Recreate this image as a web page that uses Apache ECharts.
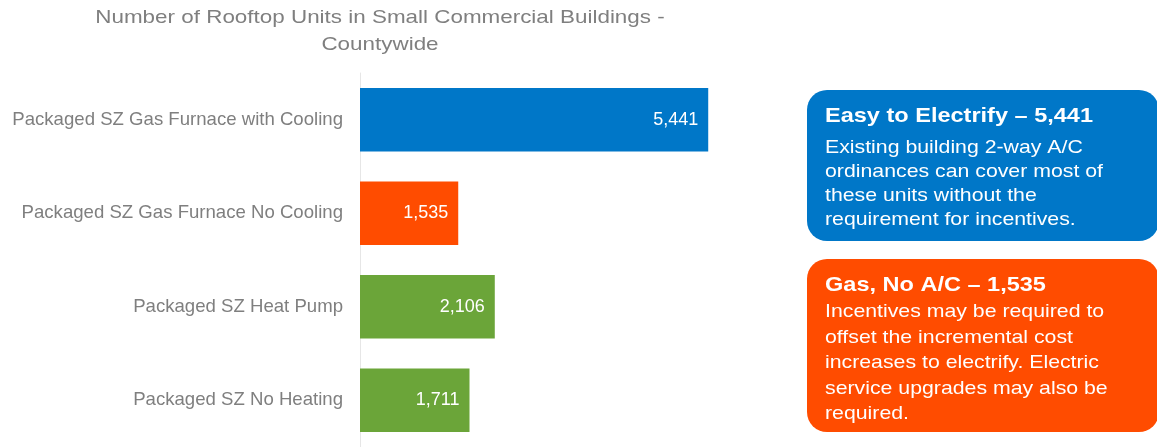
<!DOCTYPE html>
<html>
<head>
<meta charset="utf-8">
<script src="https://cdn.jsdelivr.net/npm/echarts@6/dist/echarts.min.js"></script>
<style>
  html, body { margin: 0; padding: 0; background: #ffffff; }
  #chart { width: 1157px; height: 447px; }
</style>
</head>
<body>
<div id="chart"></div>
<script>
// Rooftop unit counts by system type
const categories = [
  'Packaged SZ Gas Furnace with Cooling',
  'Packaged SZ Gas Furnace No Cooling',
  'Packaged SZ Heat Pump',
  'Packaged SZ No Heating'
];
const units = [5441, 1535, 2106, 1711];
const barColors = ['#0077c8', '#ff4c00', '#6ba539', '#6ba539'];

const titleLines = [
  'Number of Rooftop Units in Small Commercial Buildings -',
  'Countywide'
];

const fmt = v => v.toLocaleString('en-US');

// Call-out boxes on the right
const easyLines = [
  'Existing building 2-way A/C',
  'ordinances can cover most of',
  'these units without the',
  'requirement for incentives.'
];
const gasLines = [
  'Incentives may be required to',
  'offset the incremental cost',
  'increases to electrify. Electric',
  'service upgrades may also be',
  'required.'
];

const FONT = '"Liberation Sans", Arial, sans-serif';
const WIDE = 1.12; // horizontal stretch of the slide lettering

function calloutBox(x, y, w, h, color, heading, lines, bodyTop, lineH) {
  return {
    type: 'group',
    left: x, top: y,
    children: [
      { type: 'rect', shape: { x: 0, y: 0, width: w, height: h, r: 20 }, style: { fill: color } },
      {
        type: 'text', x: 18, y: 13, scaleX: WIDE,
        style: { text: heading, fill: '#ffffff', fontFamily: FONT, fontSize: 21, fontWeight: 'bold', lineHeight: 26 }
      },
      {
        type: 'text', x: 18, y: bodyTop, scaleX: WIDE,
        style: { text: lines.join('\n'), fill: '#ffffff', fontFamily: FONT, fontSize: 19, lineHeight: lineH }
      }
    ]
  };
}

const chart = echarts.init(document.getElementById('chart'));
chart.setOption({
  animation: false,
  backgroundColor: '#ffffff',
  grid: { left: 360, top: 73, width: 384, height: 379 },
  xAxis: {
    type: 'value', min: 0, max: 6000,
    show: false
  },
  yAxis: {
    type: 'category', data: categories, inverse: true,
    axisLine: { show: true, lineStyle: { color: '#e6e6e6', width: 1 } },
    axisTick: { show: false },
    axisLabel: { color: '#7f7f7f', fontSize: 18.6, margin: 17, fontFamily: FONT }
  },
  series: [{
    type: 'bar',
    data: units.map((v, i) => ({ value: v, itemStyle: { color: barColors[i] } })),
    barCategoryGap: '32%',
    label: {
      show: true, position: 'insideRight', distance: 10,
      color: '#ffffff', fontSize: 18, fontFamily: FONT,
      formatter: p => fmt(p.value)
    }
  }],
  graphic: [
    {
      type: 'text', x: 380, y: 4, scaleX: 1.18,
      style: {
        text: titleLines.join('\n'), align: 'center',
        fill: '#7f7f7f', fontFamily: FONT, fontSize: 19, lineHeight: 27
      }
    },
    calloutBox(807, 90, 352, 151, '#0077c8', 'Easy to Electrify \u2013 ' + fmt(units[0]), easyLines, 46, 24),
    calloutBox(807, 259, 352, 173, '#ff4c00', 'Gas, No A/C \u2013 ' + fmt(units[1]), gasLines, 40, 25.6)
  ]
});
</script>
</body>
</html>
